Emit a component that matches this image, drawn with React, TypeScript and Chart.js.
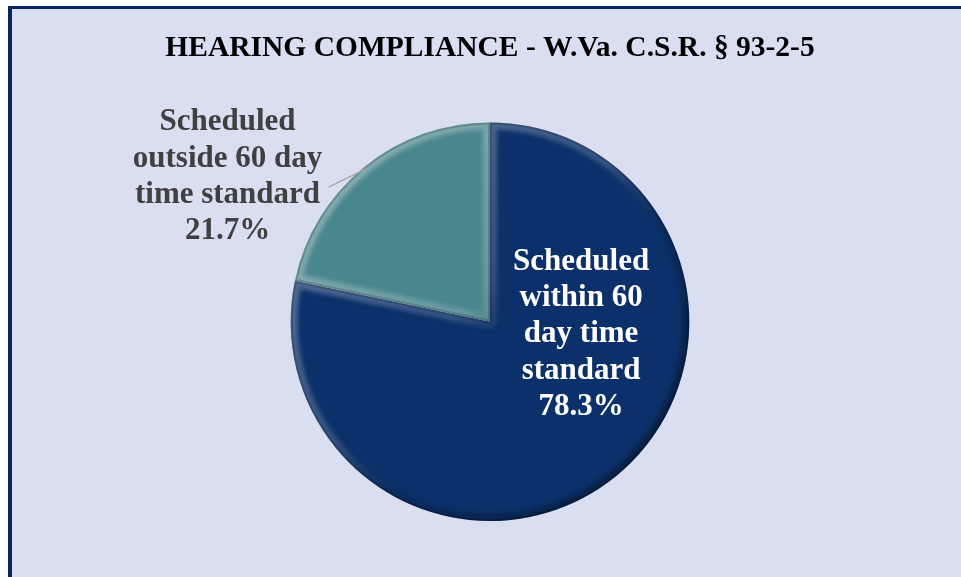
import React, { useEffect, useRef } from "react";
import { Chart, registerables } from "chart.js";

Chart.register(...registerables);

const TITLE = "HEARING COMPLIANCE - W.Va. C.S.R. § 93-2-5";
const categories = [
  "Scheduled within 60 day time standard",
  "Scheduled outside 60 day time standard",
];
const values = [78.3, 21.7];
const wrappedLabels = [
  ["Scheduled", "within 60", "day time", "standard"],
  ["Scheduled", "outside 60 day", "time standard"],
];
const sliceColors = ["#0c3069", "#4a868e"];
const labelColors = ["#ffffff", "#404040"];

const FONT = "'Liberation Serif', 'Times New Roman', serif";

const bevelPlugin = {
  id: "bevel",
  afterDatasetsDraw(chart: any) {
    const ctx = chart.ctx;
    const meta = chart.getDatasetMeta(0);
    meta.data.forEach((arc: any) => {
      const { x, y, outerRadius: r, startAngle, endAngle } = arc;
      ctx.save();
      ctx.beginPath();
      ctx.moveTo(x, y);
      ctx.arc(x, y, r, startAngle, endAngle);
      ctx.closePath();
      ctx.clip();
      const g = ctx.createLinearGradient(x - r, y - r, x + r, y + r);
      g.addColorStop(0, "rgba(255,255,255,0.38)");
      g.addColorStop(0.45, "rgba(255,255,255,0.16)");
      g.addColorStop(0.6, "rgba(0,0,0,0.10)");
      g.addColorStop(1, "rgba(0,0,0,0.45)");
      ctx.strokeStyle = g;
      ctx.lineJoin = "round";
      ctx.lineWidth = 14;
      ctx.filter = "blur(2px)";
      ctx.stroke();
      ctx.filter = "none";
      ctx.lineWidth = 4;
      ctx.strokeStyle = "rgba(0,0,0,0.18)";
      ctx.stroke();
      ctx.restore();
    });
  },
};

const labelPlugin = {
  id: "sliceLabels",
  afterDraw(chart: any) {
    const ctx = chart.ctx;
    const meta = chart.getDatasetMeta(0);
    const vals = chart.data.datasets[0].data as number[];
    // relative positions (fractions of radius) of first baseline, per slice
    const anchors = [
      { dx: 0.457, dy: -0.261 },
      { dx: -1.317, dy: -0.96 },
    ];
    const lineH = 36.3;
    ctx.save();
    ctx.font = `bold 31px ${FONT}`;
    ctx.textAlign = "center";
    ctx.textBaseline = "alphabetic";
    meta.data.forEach((arc: any, i: number) => {
      const r = arc.outerRadius;
      const cx = arc.x + anchors[i].dx * r;
      const cy = arc.y + anchors[i].dy * r;
      const lines = [...wrappedLabels[i], `${vals[i].toFixed(1)}%`];
      ctx.fillStyle = labelColors[i];
      lines.forEach((t, k) => ctx.fillText(t, cx, cy + k * lineH));
      if (i === 1) {
        // leader line
        ctx.beginPath();
        ctx.strokeStyle = "#a6a6a6";
        ctx.lineWidth = 1.5;
        ctx.moveTo(arc.x - 0.81 * r, arc.y - 0.675 * r);
        ctx.lineTo(arc.x - 0.628 * r, arc.y - 0.764 * r);
        ctx.stroke();
      }
    });
    ctx.restore();
  },
};

export default function App() {
  const ref = useRef<HTMLCanvasElement | null>(null);
  useEffect(() => {
    if (!ref.current) return;
    const chart = new Chart(ref.current, {
      type: "pie",
      data: {
        labels: categories,
        datasets: [
          {
            data: values,
            backgroundColor: sliceColors,
            borderColor: "rgba(0,0,0,0.25)",
            borderWidth: 0,
          },
        ],
      },
      options: {
        responsive: false,
        animation: false,
        devicePixelRatio: 1,
        layout: { padding: { left: 19, right: 0, top: 0, bottom: 56 } },
        plugins: {
          legend: { display: false },
          tooltip: { enabled: false },
          title: {
            display: true,
            text: TITLE,
            color: "#000000",
            font: { family: FONT, size: 29.5, weight: "bold" },
            padding: { top: 31, bottom: 56 },
          },
        },
      },
      plugins: [bevelPlugin, labelPlugin],
    } as any);
    return () => chart.destroy();
  }, []);

  return (
    <>
      <div
        style={{
          position: "absolute",
          left: 8,
          top: 6,
          width: 980,
          height: 600,
          background: "#d9dff0",
          borderLeft: "4px solid #0a2464",
          borderTop: "3px solid #0a2464",
          boxSizing: "border-box",
        }}
      />
      <canvas
        ref={ref}
        width={961}
        height={577}
        style={{ position: "absolute", left: 0, top: 0, width: 961, height: 577 }}
      />
    </>
  );
}
